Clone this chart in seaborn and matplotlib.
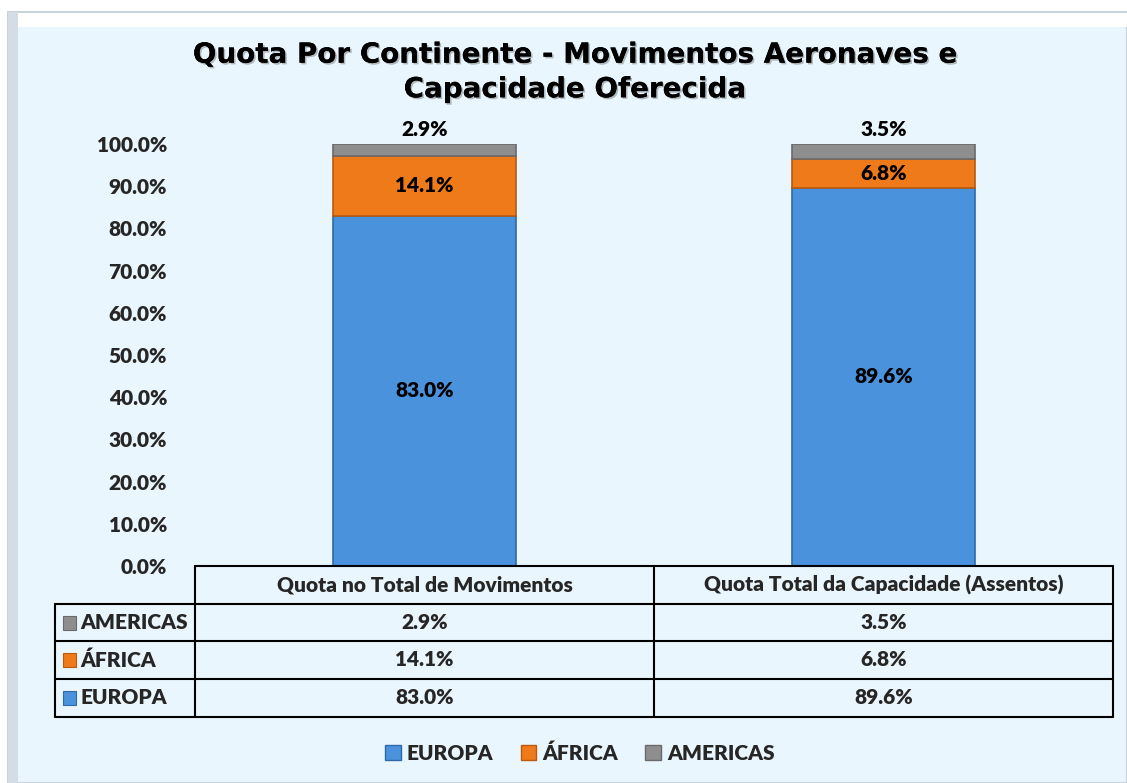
import matplotlib
matplotlib.use("Agg")
import matplotlib.pyplot as plt
import matplotlib.patheffects as pe
from matplotlib.patches import Rectangle
from matplotlib.lines import Line2D
import seaborn as sns
import pandas as pd

# data
categories = ["Quota no Total de Movimentos", "Quota Total da Capacidade (Assentos)"]
europa = [83.0, 89.6]
africa = [14.1, 6.8]
americas = [2.9, 3.5]
series_names = ["EUROPA", "ÁFRICA", "AMERICAS"]
y_ticks = [0, 10, 20, 30, 40, 50, 60, 70, 80, 90, 100]

colors = {"EUROPA": "#4a92dc", "ÁFRICA": "#ef7a1a", "AMERICAS": "#8e8e8e"}
edges = {"EUROPA": "#2f6aa8", "ÁFRICA": "#b85a10", "AMERICAS": "#6a6a6a"}

df = pd.DataFrame({"cat": categories, "EUROPA": europa, "ÁFRICA": africa, "AMERICAS": americas})

sns.set_theme(style="white")
plt.rcParams["font.family"] = ["Lato", "DejaVu Sans"]
bg = "#eaf6fd"
FW = "heavy"
FS = 15

W, H = 1127, 783
fig = plt.figure(figsize=(W / 100, H / 100), dpi=100)
fig.patch.set_facecolor("white")

def fx(px):
    return px / W

def fy(py):
    return 1 - py / H

# outer frame with bevel
fig.add_artist(Rectangle((fx(8), 0), fx(W - 8), fy(12), transform=fig.transFigure,
                         facecolor=bg, edgecolor="#c9d3dc", lw=1.5, zorder=0))
fig.add_artist(Rectangle((fx(10), fy(27)), fx(W - 10), fy(13) - fy(27), transform=fig.transFigure,
                         facecolor="white", edgecolor="none", zorder=0))
fig.add_artist(Rectangle((fx(8), 0), fx(10), fy(12), transform=fig.transFigure,
                         facecolor="#d4dde6", edgecolor="none", zorder=0))

ax = fig.add_axes([fx(195), fy(566), fx(1113) - fx(195), fy(144) - fy(566)])
ax.set_facecolor("none")

bottom = [0.0, 0.0]
for name in series_names:
    sns.barplot(data=df, x="cat", y=name, ax=ax, color=colors[name], width=0.4,
                bottom=bottom, edgecolor=edges[name], linewidth=1.2, saturation=1)
    vals = df[name].tolist()
    for i, v in enumerate(vals):
        if name == "AMERICAS":
            ypos = bottom[i] + v + 1.3
            va = "bottom"
        else:
            ypos = bottom[i] + v / 2
            va = "center"
        ax.text(i, ypos, f"{v:.1f}%", ha="center", va=va, fontsize=FS,
                fontweight=FW, color="black")
    bottom = [b + v for b, v in zip(bottom, vals)]

ax.set_ylim(0, 100)
ax.set_xlim(-0.5, 1.5)
ax.set_yticks(y_ticks)
ax.set_yticklabels([f"{t:.1f}%" for t in y_ticks], fontsize=FS, fontweight=FW)
ax.tick_params(axis="y", length=0, pad=20)
ax.set_xticks([])
ax.set_xlabel("")
ax.set_ylabel("")
for s in ax.spines.values():
    s.set_visible(False)

# title
title = "Quota Por Continente - Movimentos Aeronaves e\nCapacidade Oferecida"
fig.text(fx(575), fy(72), title, ha="center", va="center", fontsize=20, fontweight="bold",
         family="DejaVu Sans", linespacing=1.3, color="black",
         path_effects=[pe.withSimplePatchShadow(offset=(1.2, -1.2), alpha=0.25), pe.Normal()])

# data table
col_x = [55, 195, 654, 1113]
row_y = [566, 604, 641, 679, 717]
lc = "black"
lw = 1.5

def hline(x0, x1, y):
    fig.add_artist(Line2D([fx(x0), fx(x1)], [fy(y), fy(y)], transform=fig.transFigure, color=lc, lw=lw))

def vline(x, y0, y1):
    fig.add_artist(Line2D([fx(x), fx(x)], [fy(y0), fy(y1)], transform=fig.transFigure, color=lc, lw=lw))

hline(195, 1113, 566)
for y in row_y[1:]:
    hline(55, 1113, y)
vline(55, 604, 717)
for x in col_x[1:]:
    vline(x, 566, 717)

for i, cat in enumerate(categories):
    cx = (col_x[i + 1] + col_x[i + 2]) / 2
    fig.text(fx(cx), fy(585), cat, ha="center", va="center", fontsize=FS, fontweight=FW)

table_rows = [("AMERICAS", americas), ("ÁFRICA", africa), ("EUROPA", europa)]
for r, (name, vals) in enumerate(table_rows):
    cy = (row_y[r + 1] + row_y[r + 2]) / 2
    fig.add_artist(Rectangle((fx(63), fy(cy + 7)), fx(13), fy(cy - 7) - fy(cy + 7),
                             transform=fig.transFigure, facecolor=colors[name],
                             edgecolor=edges[name], lw=0.8))
    fig.text(fx(80), fy(cy), name, ha="left", va="center", fontsize=FS, fontweight=FW)
    for i, v in enumerate(vals):
        cx = (col_x[i + 1] + col_x[i + 2]) / 2
        fig.text(fx(cx), fy(cy), f"{v:.1f}%", ha="center", va="center", fontsize=FS, fontweight=FW)

# legend
handles = [Rectangle((0, 0), 1, 1, facecolor=colors[n], edgecolor=edges[n]) for n in series_names]
fig.legend(handles, series_names, loc="center", bbox_to_anchor=(fx(580), fy(753)), ncol=3,
           frameon=False, prop={"weight": FW, "size": FS}, handlelength=0.75,
           handleheight=0.75, handletextpad=0.3, columnspacing=1.3)

fig.savefig("out.png", dpi=100, facecolor=fig.get_facecolor())
